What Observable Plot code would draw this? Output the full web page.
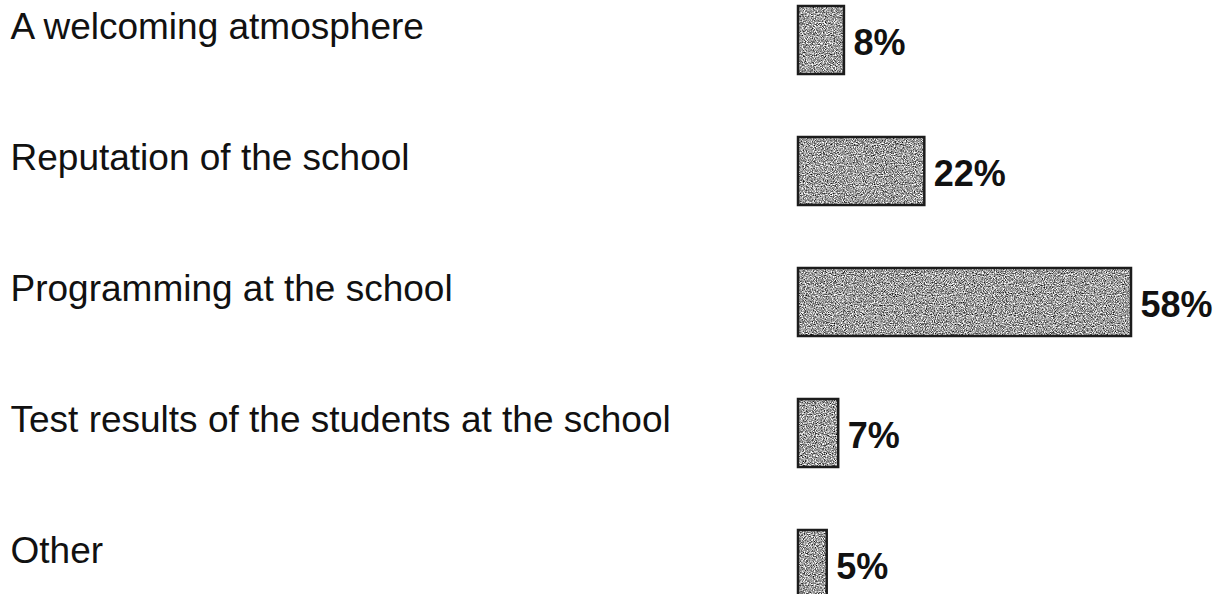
<!DOCTYPE html>
<html>
<head>
<meta charset="utf-8">
<script src="https://cdn.jsdelivr.net/npm/d3@7"></script>
<script src="https://cdn.jsdelivr.net/npm/@observablehq/plot@0.6"></script>
<style>
  html, body { margin: 0; padding: 0; background: #fff; }
  #chart svg { display: block; }
</style>
</head>
<body>
<div id="chart"></div>
<script>
const categories = [
  "A welcoming atmosphere",
  "Reputation of the school",
  "Programming at the school",
  "Test results of the students at the school",
  "Other"
];
const values = [8, 22, 58, 7, 5];
const valueLabels = ["8%", "22%", "58%", "7%", "5%"];

const data = categories.map((c, i) => ({cat: c, value: values[i], label: valueLabels[i]}));

const plot = Plot.plot({
  width: 1217,
  height: 594,
  marginTop: 0, marginBottom: 0, marginLeft: 0, marginRight: 0,
  style: {fontFamily: "'Liberation Sans', Arial, sans-serif", background: "#fff", color: "#000", overflow: "hidden"},
  x: {domain: [0, 58], range: [798, 1131], axis: null},
  y: {domain: categories, range: [5, 599], paddingInner: 0.48, paddingOuter: 0, axis: null},
  marks: [
    Plot.barX(data, {x: "value", y: "cat", fill: "url(#grain-pat)", stroke: "#1c1c1c", strokeWidth: 2.5}),
    Plot.text(data, {y: "cat", text: "cat", frameAnchor: "left", textAnchor: "start", dx: 10, dy: -13, fontSize: 37, fill: "#111"}),
    Plot.text(data, {x: "value", y: "cat", text: "label", textAnchor: "start", dx: 9, dy: 3, fontSize: 36, fontWeight: "bold", fill: "#111"})
  ]
});

// grainy halftone texture for the bars
const ns = "http://www.w3.org/2000/svg";
const defs = document.createElementNS(ns, "defs");
defs.innerHTML = `
  <filter id="grain" x="0" y="0" width="100%" height="100%" filterUnits="userSpaceOnUse" color-interpolation-filters="sRGB">
    <feTurbulence type="fractalNoise" baseFrequency="0.9" numOctaves="2" seed="7" result="noise"/>
    <feColorMatrix in="noise" type="matrix"
      values="1.8 0 0 0 -0.28
              1.8 0 0 0 -0.28
              1.8 0 0 0 -0.28
              0 0 0 0 1"/>
  </filter>
  <pattern id="grain-pat" patternUnits="userSpaceOnUse" x="0" y="0" width="1217" height="594">
    <rect x="0" y="0" width="1217" height="594" fill="#a0a0a0" filter="url(#grain)"/>
  </pattern>`;
plot.insertBefore(defs, plot.firstChild);

document.getElementById("chart").appendChild(plot);
</script>
</body>
</html>
